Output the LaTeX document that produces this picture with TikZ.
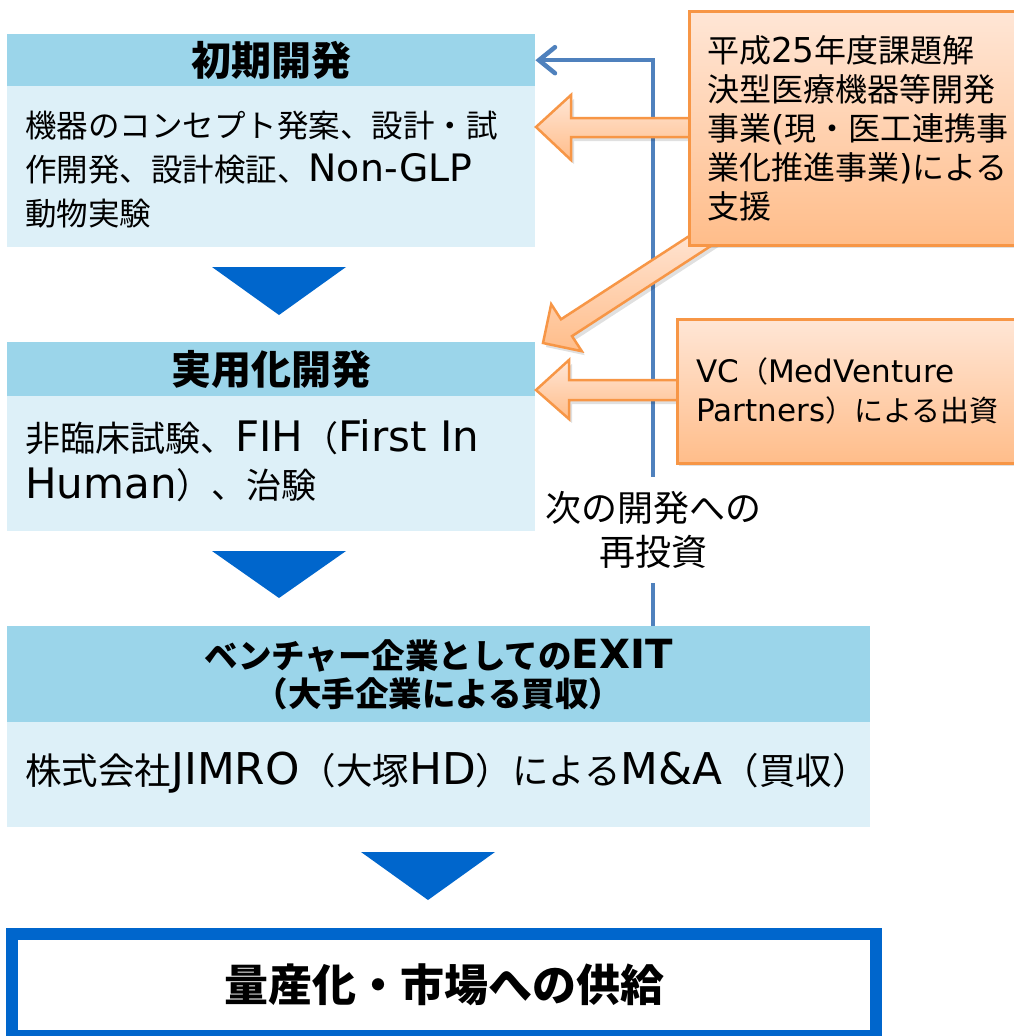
\documentclass[tikz,border=0pt]{standalone}
\usepackage{fontspec}
\setmainfont{Noto Sans CJK JP}
\newfontfamily\lat{DejaVu Sans}[Scale=1.2]
\newfontfamily\latS{DejaVu Sans}[Scale=1.07]
\usetikzlibrary{arrows.meta}
\definecolor{hdrc}{HTML}{9BD5EA}
\definecolor{bdyc}{HTML}{DDF0F8}
\definecolor{triblue}{HTML}{0066CC}
\definecolor{lineblue}{HTML}{4F81BD}
\definecolor{orbord}{HTML}{F79646}
\definecolor{ortop}{HTML}{FFE6D6}
\definecolor{orbot}{HTML}{FFBD8A}
\begin{document}
\begin{tikzpicture}[x=1pt,y=-1pt,
  hdr/.style={fill=hdrc, inner sep=0pt, anchor=north west, font=\fontsize{40}{44}\selectfont\bfseries, align=center},
  bdy/.style={fill=bdyc, inner sep=0pt, anchor=north west},
  btext/.style={inner sep=0pt, anchor=west, align=left, font=\fontsize{31.5}{44}\selectfont},
  otext/.style={inner sep=0pt, anchor=west, align=left, font=\fontsize{32}{39}\selectfont},
  orng/.style={draw=orbord, line width=2.5pt, top color=ortop, bottom color=orbot},
  oshadow/.style={fill=black, opacity=0.12},
  tri/.style={fill=triblue},
  blueln/.style={draw=lineblue, line width=4.5pt},
  tipb/.style={-{Straight Barb[length=16pt,width=26pt,line cap=round]}}
]
\clip (0,0) rectangle (1014,1036);
\fill[white] (0,0) rectangle (1014,1036);

% --- blue boxes
\node[hdr, minimum width=528pt, minimum height=52pt] (h1) at (7,34) {初期開発};
\node[bdy, minimum width=528pt, minimum height=161pt] (b1) at (7,86) {};
\node[btext] (t1) at (25,170) {機器のコンセプト発案、設計・試\\作開発、設計検証、{\lat Non-GLP}\\動物実験};

\node[hdr, minimum width=528pt, minimum height=54pt] (h2) at (7,342) {実用化開発};
\node[bdy, minimum width=528pt, minimum height=135pt] (b2) at (7,396) {};
\node[btext, font=\fontsize{35}{47}\selectfont] (t2) at (25,461) {非臨床試験、{\lat FIH}（{\lat First In}\\{\lat Human}）、治験};

\node[hdr, minimum width=863pt, minimum height=96pt, font=\fontsize{33.5}{38}\selectfont\bfseries] (h3) at (7,626) {ベンチャー企業としての{\lat EXIT}\\（大手企業による買収）};
\node[bdy, minimum width=863pt, minimum height=105pt] (b3) at (7,722) {};
\node[btext, font=\fontsize{36.5}{44}\selectfont] (t3) at (25,773) {株式会社{\lat JIMRO}（大塚{\lat HD}）による{\lat M\&A}（買収）};

\node[draw=triblue, line width=12pt, fill=white, inner sep=0pt, anchor=north west,
      minimum width=864pt, minimum height=102pt,
      font=\fontsize{44}{50}\selectfont\bfseries] (b4) at (6,928) {量産化・市場への供給};

% --- triangles
\fill[tri] (212,267) -- (346,267) -- (279,315) -- cycle;
\fill[tri] (212,551) -- (346,551) -- (279,598) -- cycle;
\fill[tri] (361,852) -- (495,852) -- (428,900) -- cycle;

% --- reinvestment connector
\node[inner sep=0pt, minimum height=106pt, align=center, font=\fontsize{36}{44}\selectfont] (re) at (653,530) {次の開発への\\再投資};
\draw[blueln] (h3.north -| re.south) -- (re.south);
\draw[blueln, tipb] (re.north) -- (re.north |- h1.east) -- (h1.east);

% --- orange block arrows (shadows)
\begin{scope}[shift={(3,4)}]
\fill[oshadow] (700,118) -- (571,118) -- (571,95) -- (536,127) -- (571,160) -- (571,137) -- (700,137) -- cycle;
\fill[oshadow] (716.3,242.4) -- (572.0,336.1) -- (581.8,351.2) -- (543,343) -- (551.2,304.2) -- (561.0,319.3) -- (705.3,225.6) -- cycle;
\fill[oshadow] (690,380) -- (569,380) -- (569,360) -- (536,390) -- (569,419) -- (569,400) -- (690,400) -- cycle;
\fill[oshadow] (688,10) rectangle (1030,244);
\fill[oshadow] (676,318) rectangle (1030,462);
\end{scope}

% --- orange block arrows
\path[orng] (700,118) -- (571,118) -- (571,95) -- (536,127) -- (571,160) -- (571,137) -- (700,137) -- cycle;
\path[orng] (716.3,242.4) -- (572.0,336.1) -- (581.8,351.2) -- (543,343) -- (551.2,304.2) -- (561.0,319.3) -- (705.3,225.6) -- cycle;
\path[orng] (690,380) -- (569,380) -- (569,360) -- (536,390) -- (569,419) -- (569,400) -- (690,400) -- cycle;

% --- orange boxes
\node[orng, inner sep=0pt, anchor=north west, minimum width=342pt, minimum height=234pt] (o1) at (688,10) {};
\node[otext] (ot1) at (707,128) {平成{\latS 25}年度課題解\\決型医療機器等開発\\事業{\latS (}現・医工連携事\\業化推進事業{\latS )}による\\支援};
\node[orng, inner sep=0pt, anchor=north west, minimum width=354pt, minimum height=144pt] (o2) at (676,318) {};
\node[otext, font=\fontsize{29}{39}\selectfont] (ot2) at (696,391) {{\latS VC}（{\latS MedVenture}\\{\latS Partners}）による出資};
\end{tikzpicture}
\end{document}
